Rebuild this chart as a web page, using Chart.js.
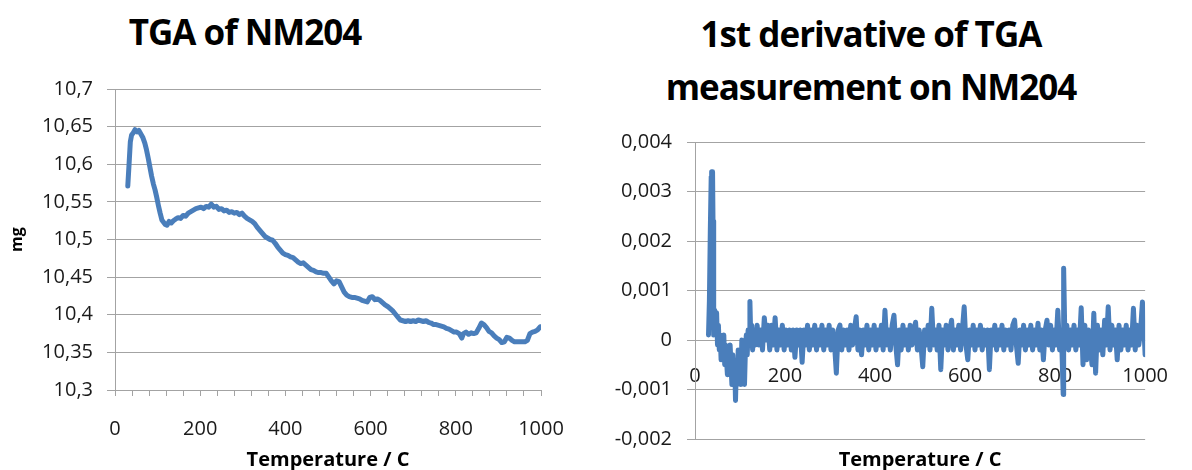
<!DOCTYPE html>
<html>
<head>
<meta charset="utf-8">
<script src="https://cdn.jsdelivr.net/npm/chart.js@4.4.0/dist/chart.umd.min.js"></script>
<style>
    html, body { margin: 0; padding: 0; background: #fff; overflow: hidden; }
    body { width: 1192px; height: 470px; position: relative; font-family: 'Open Sans', sans-serif; }
    .chart-title {
        position: absolute; text-align: center; font-weight: 700;
        font-size: 35px; line-height: 53px; letter-spacing: -1px; color: #000;
    }
    #tgaTitle { left: 0; width: 490px; top: 5px; }
    #dtgTitle { left: 590px; width: 562px; top: 7px; }
    .chart-box { position: absolute; top: 0; height: 472px; }
    #tgaBox { left: 0; width: 590px; }
    #dtgBox { left: 590px; width: 602px; }
</style>
</head>
<body>
<div class="chart-title" id="tgaTitle">TGA of NM204</div>
<div class="chart-title" id="dtgTitle">1st derivative of TGA<br>measurement on NM204</div>
<div class="chart-box" id="tgaBox"><canvas id="tgaChart"></canvas></div>
<div class="chart-box" id="dtgBox"><canvas id="dtgChart"></canvas></div>

<script>
// TGA mass curve (temperature in C, mass in mg)
const tgaTemps = [
    30, 33, 36, 39, 43, 47, 52, 56, 60, 65,
    70, 74, 78, 82, 86, 90, 94, 98, 102, 106,
    110, 114, 118, 122, 127, 132, 137, 142, 148, 154,
    160, 166, 172, 178, 184, 190, 196, 202, 208, 214,
    220, 226, 232, 238, 244, 250, 256, 262, 268, 274,
    280, 286, 292, 298, 304, 310, 316, 322, 328, 334,
    340, 346, 352, 358, 364, 370, 376, 382, 388, 394,
    400, 406, 412, 418, 424, 430, 436, 442, 448, 454,
    460, 466, 472, 478, 484, 490, 496, 502, 508, 514,
    520, 526, 532, 538, 544, 550, 556, 562, 568, 574,
    580, 586, 592, 598, 604, 610, 616, 622, 628, 634,
    640, 646, 652, 658, 664, 670, 676, 682, 688, 694,
    700, 706, 712, 718, 724, 730, 736, 742, 748, 754,
    760, 766, 772, 778, 784, 790, 796, 802, 808, 814,
    818, 824, 830, 836, 842, 848, 854, 860, 866, 872,
    878, 884, 890, 896, 902, 908, 914, 920, 926, 932,
    938, 944, 950, 956, 962, 968, 974, 980, 986, 992,
    998
];
const tgaMass = [
    10.571, 10.600, 10.630, 10.639, 10.642, 10.646, 10.643, 10.645, 10.641, 10.636,
    10.628, 10.619, 10.608, 10.596, 10.584, 10.574, 10.566, 10.556, 10.545, 10.535,
    10.526, 10.523, 10.520, 10.519, 10.524, 10.522, 10.525, 10.527, 10.529, 10.528,
    10.532, 10.531, 10.535, 10.537, 10.539, 10.541, 10.542, 10.543, 10.541, 10.544,
    10.543, 10.547, 10.543, 10.544, 10.540, 10.541, 10.538, 10.539, 10.536, 10.537,
    10.535, 10.536, 10.533, 10.535, 10.531, 10.528, 10.526, 10.524, 10.521, 10.516,
    10.512, 10.508, 10.504, 10.502, 10.500, 10.499, 10.495, 10.490, 10.486, 10.482,
    10.480, 10.479, 10.477, 10.476, 10.473, 10.470, 10.468, 10.469, 10.466, 10.463,
    10.460, 10.459, 10.457, 10.456, 10.456, 10.455, 10.455, 10.450, 10.445, 10.441,
    10.445, 10.444, 10.437, 10.430, 10.426, 10.424, 10.423, 10.423, 10.422, 10.421,
    10.419, 10.418, 10.417, 10.423, 10.424, 10.420, 10.421, 10.419, 10.416, 10.413,
    10.411, 10.408, 10.405, 10.401, 10.397, 10.393, 10.392, 10.391, 10.392, 10.391,
    10.392, 10.391, 10.393, 10.392, 10.391, 10.392, 10.390, 10.389, 10.387, 10.387,
    10.386, 10.385, 10.384, 10.382, 10.381, 10.379, 10.377, 10.377, 10.375, 10.369,
    10.375, 10.377, 10.374, 10.376, 10.375, 10.376, 10.382, 10.389, 10.387, 10.383,
    10.378, 10.376, 10.372, 10.369, 10.367, 10.363, 10.364, 10.370, 10.369, 10.366,
    10.364, 10.364, 10.364, 10.364, 10.364, 10.366, 10.375, 10.377, 10.378, 10.380,
    10.384
];

// First derivative of the TGA signal
const derivTemps = [
    30, 32, 34, 36, 37, 38, 39, 40, 41, 42,
    44, 46, 48, 50, 52, 54, 56, 58, 60, 62,
    64, 66, 68, 70, 72, 74, 76, 78, 80, 82,
    84, 86, 88, 90, 92, 94, 96, 98, 100, 102,
    104, 106, 108, 110, 112, 114, 116, 118, 120, 122,
    124, 126, 128, 130,
    134, 138, 142, 146, 150, 154, 158, 162, 166, 170,
    174, 178, 182, 186, 190, 194, 198, 202, 206, 210,
    214, 218, 222, 226, 230, 234, 238, 242, 246, 250,
    254, 258, 262, 266, 270, 274, 278, 282, 286, 290,
    294, 298, 302, 306, 310, 314, 318, 322, 326, 330,
    334, 338, 342, 346, 350, 354, 358, 362, 366, 370,
    374, 378, 382, 386, 390, 394, 398, 402, 406, 410,
    414, 418, 422, 426, 430, 434, 438, 442, 446, 450,
    454, 458, 462, 466, 470, 474, 478, 482, 486, 490,
    494, 498, 502, 506, 510, 514, 518, 522, 526, 530,
    534, 538, 542, 546, 550, 554, 558, 562, 566, 570,
    574, 578, 582, 586, 590, 594, 598, 602, 606, 610,
    614, 618, 622, 626, 630, 634, 638, 642, 646, 650,
    654, 658, 662, 666, 670, 674, 678, 682, 686, 690,
    694, 698, 702, 706, 710, 714, 718, 722, 726, 730,
    734, 738, 742, 746, 750, 754, 758, 762, 766, 770,
    774, 778, 782, 786, 790, 794, 798, 802, 806, 810,
    814, 818, 819, 822, 826, 830, 834, 838, 842, 846,
    850, 854, 858, 862, 866, 870, 874, 878, 882, 886,
    890, 894, 898, 902, 906, 910, 914, 918, 922, 926,
    930, 934, 938, 942, 946, 950, 954, 958, 962, 966,
    970, 974, 978, 982, 986, 990, 994, 998, 1000
];
const derivValues = [
    0.0001, 0.0008, 0.0022, 0.0033, 0.0034, 0.0033, 0.0034, 0.0024, 0.0010, 0.0001,
    0.0006, 0.0002, 0.00055, -0.0001, 0.0003, -0.0002, 0.0001, -0.0004, 0.0000, -0.0003,
    0.0001, -0.0005, -0.0001, -0.0004, -0.0007, -0.0002, -0.0006, -0.0001, -0.0005, -0.0009,
    -0.0003, -0.0008, -0.0004, -0.00122, -0.0005, -0.0009, -0.0002, -0.0007, -0.0003, -0.0009,
    0.0000, -0.0006, -0.0001, -0.0009, -0.0002, 0.0001, -0.0003, 0.0002, -0.0001, 0.00078,
    0.0000, 0.0003, -0.0002, 0.0002,
    -0.0001, 0.0003, -0.0001, 0.0002, -0.0002, 0.00045, 0.0000, 0.0003, -0.0002, 0.0003,
    -0.0001, 0.00045, -0.0002, 0.0002, -0.0001, 0.0003, -0.0002, 0.0002, -0.0001, 0.0002,
    -0.0002, 0.0002, -0.00035, 0.0002, -0.0001, 0.0002, -0.00045, 0.0002, -0.0001, 0.0003,
    -0.0002, 0.0002, -0.0001, 0.0003, -0.0002, 0.0002, -0.0001, 0.0003, -0.0002, 0.0002,
    -0.0001, 0.0003, -0.0002, 0.0002, -0.0001, -0.00067, 0.0002, 0.0003, -0.0002, 0.0002,
    -0.0001, 0.0002, -0.0002, 0.0003, -0.0001, 0.0002, 0.00047, -0.0002, 0.0002, -0.0003,
    0.0002, -0.0001, 0.0003, -0.0002, 0.0002, -0.0001, 0.0003, -0.0002, 0.0002, -0.0001,
    0.0003, -0.0002, 0.0006, -0.0001, 0.0002, -0.0002, 0.0003, 0.0005, -0.0001, -0.0005,
    0.0002, -0.0002, 0.0003, -0.0001, 0.0002, -0.0002, 0.0003, -0.0001, 0.0002, 0.00036,
    -0.0002, 0.0002, -0.0001, -0.00054, 0.0002, -0.0001, 0.0003, -0.0002, 0.00064, -0.0001,
    0.0002, -0.0002, 0.0003, -0.0006, 0.0002, -0.0001, 0.0003, -0.0002, 0.0002, 0.0004,
    -0.0002, 0.0002, -0.0001, 0.0003, -0.0002, 0.0002, 0.00067, -0.0001, -0.0004, 0.0002,
    -0.0001, 0.0003, -0.0002, 0.0002, -0.0001, 0.0003, -0.0002, 0.0002, -0.0001, 0.0002,
    -0.0006, 0.0002, -0.0001, 0.0003, -0.0002, 0.0002, -0.0001, 0.0003, -0.0002, 0.0002,
    -0.0001, 0.0002, -0.0002, 0.0003, 0.0004, -0.0001, -0.00047, 0.0002, -0.0001, 0.0003,
    -0.0002, 0.0002, -0.0001, 0.0003, -0.0002, 0.0002, -0.0001, 0.00034, -0.0002, 0.0002,
    -0.0004, 0.0002, 0.0004, -0.0001, 0.0003, -0.0002, 0.0002, -0.0001, 0.0006, -0.0002,
    0.0002, -0.0011, 0.00145, -0.0001, 0.0003, -0.0002, 0.0002, -0.0001, 0.0003, -0.0002,
    0.0002, -0.0001, 0.00065, -0.0005, 0.0003, -0.0004, 0.0002, -0.0001, -0.0005, 0.00054,
    -0.00067, 0.0003, -0.0002, 0.0002, -0.0003, 0.0004, -0.0001, 0.00067, -0.0002, 0.0003,
    -0.0001, 0.0002, -0.0004, 0.0003, -0.0002, 0.0002, -0.0001, 0.0003, -0.0002, 0.0002,
    -0.0001, 0.00064, -0.0002, 0.0003, -0.0001, 0.0002, 0.00077, 0.0001, -0.0003
];

// Axis ticks
const tempTicks = [0, 200, 400, 600, 800, 1000];
const massTicks = [10.3, 10.35, 10.4, 10.45, 10.5, 10.55, 10.6, 10.65, 10.7];
const massTickLabels = ['10,3', '10,35', '10,4', '10,45', '10,5', '10,55', '10,6', '10,65', '10,7'];
const derivTicks = [-0.002, -0.001, 0, 0.001, 0.002, 0.003, 0.004];
const derivTickLabels = ['-0,002', '-0,001', '0', '0,001', '0,002', '0,003', '0,004'];

const FONT = "'Open Sans', sans-serif";
const lineBlue = '#4a7ebb';
const gridGray = '#a3a3a3';
const tickFont = { family: FONT, size: 20 };
const tickColor = '#1a1a1a';
const axisTitleFont = { family: FONT, size: 20, weight: 'bold' };

const toPoints = (xs, ys) => xs.map((x, i) => ({ x: x, y: ys[i] }));
const setTicks = values => axis => { axis.ticks = values.map(v => ({ value: v })); };

Chart.defaults.animation = false;

new Chart(document.getElementById('tgaChart'), {
    type: 'line',
    data: {
        datasets: [{
            data: toPoints(tgaTemps, tgaMass),
            borderColor: lineBlue,
            borderWidth: 5,
            pointRadius: 0,
            tension: 0,
            borderJoinStyle: 'round',
            borderCapStyle: 'round'
        }]
    },
    options: {
        responsive: true,
        maintainAspectRatio: false,
        layout: { padding: { top: 89, right: 49, bottom: 0, left: 0 } },
        plugins: { legend: { display: false }, tooltip: { enabled: false } },
        scales: {
            x: {
                type: 'linear',
                min: 0,
                max: 1000,
                ticks: {
                    stepSize: 40,
                    autoSkip: false,
                    maxRotation: 0,
                    padding: 21,
                    font: tickFont,
                    color: tickColor,
                    callback: v => tempTicks.includes(v) ? String(v) : ''
                },
                grid: { drawOnChartArea: false, drawTicks: true, tickLength: 6, color: gridGray },
                border: { color: gridGray },
                title: { display: true, text: 'Temperature / C', font: axisTitleFont, color: '#000', padding: 0 },
                afterFit: s => { s.height = 82; }
            },
            y: {
                min: 10.3,
                max: 10.7,
                afterBuildTicks: setTicks(massTicks),
                ticks: {
                    padding: 14,
                    font: tickFont,
                    color: tickColor,
                    callback: (v, i) => massTickLabels[i]
                },
                grid: { color: gridGray, tickLength: 8 },
                border: { color: gridGray },
                title: {
                    display: true, text: 'mg', color: '#000',
                    font: { family: FONT, size: 16, weight: 'bold' },
                    padding: { top: 8, bottom: 0 }
                },
                afterFit: s => { s.width = 115; }
            }
        }
    }
});

new Chart(document.getElementById('dtgChart'), {
    type: 'line',
    data: {
        datasets: [{
            data: toPoints(derivTemps, derivValues),
            xAxisID: 'x',
            yAxisID: 'y',
            borderColor: lineBlue,
            borderWidth: 5,
            pointRadius: 0,
            tension: 0,
            borderJoinStyle: 'round',
            borderCapStyle: 'round'
        }]
    },
    options: {
        responsive: true,
        maintainAspectRatio: false,
        layout: { padding: { top: 142, right: 26, bottom: 0, left: 0 } },
        plugins: { legend: { display: false }, tooltip: { enabled: false } },
        scales: {
            // labelled axis crossing at zero
            x: {
                type: 'linear',
                position: { y: 0 },
                min: 0,
                max: 1000,
                ticks: {
                    stepSize: 200,
                    maxRotation: 0,
                    padding: 24,
                    font: tickFont,
                    color: tickColor,
                    callback: v => String(v)
                },
                grid: { drawOnChartArea: false, drawTicks: false },
                border: { display: false }
            },
            // carries only the axis title at the bottom
            xTitle: {
                type: 'linear',
                position: 'bottom',
                min: 0,
                max: 1000,
                ticks: { display: false },
                grid: { display: false },
                border: { display: false },
                title: { display: true, text: 'Temperature / C', font: axisTitleFont, color: '#000', padding: 0 },
                afterFit: s => { s.height = 33; }
            },
            y: {
                min: -0.002,
                max: 0.004,
                afterBuildTicks: setTicks(derivTicks),
                ticks: {
                    padding: 15,
                    font: tickFont,
                    color: tickColor,
                    callback: (v, i) => derivTickLabels[i]
                },
                grid: { color: gridGray, tickLength: 8 },
                border: { color: gridGray },
                afterFit: s => { s.width = 105; }
            }
        }
    }
});
</script>
</body>
</html>
